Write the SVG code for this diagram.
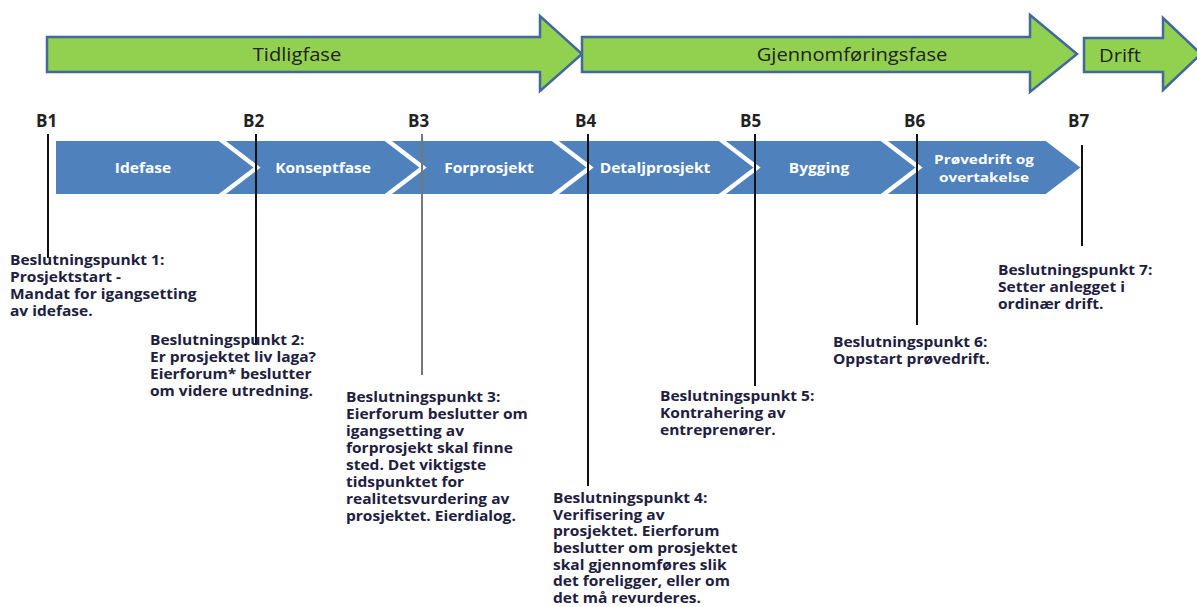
<svg xmlns="http://www.w3.org/2000/svg" width="1197" height="607" viewBox="0 0 1197 607">
  <style>
    .phase { fill: #92d050; stroke: #41699a; stroke-width: 2.5; stroke-linejoin: miter; }
    .phase-label { font-family: "Open Sans", "Liberation Sans", sans-serif; font-size: 18px; fill: #222; text-anchor: middle; dominant-baseline: central; }
    .step { fill: #4f81bd; stroke: #ffffff; stroke-width: 2; }
    .step-label { font-family: "Open Sans", "Liberation Sans", sans-serif; font-size: 13.5px; font-weight: 700; fill: #ffffff; text-anchor: middle; dominant-baseline: central; }
    .step-label.small { font-size: 13px; }
    .bp { font-family: "Open Sans", "Liberation Sans", sans-serif; font-size: 17px; font-weight: 700; fill: #222; }
    .marker { stroke: #111; stroke-width: 2; }
    .marker-gray { stroke: #777; stroke-width: 2; }
    .note { font-family: "Open Sans", "Liberation Sans", sans-serif; font-size: 13.5px; font-weight: 700; fill: #1e2040; }
  </style>

  <!-- Phase arrows -->
  <g id="phase-tidligfase">
    <path class="phase" d="M47,37 L540,37 L540,16 L582,54 L540,91 L540,72 L47,72 Z"/>
    <text class="phase-label" transform="translate(297,54) scale(1.12,1)">Tidligfase</text>
  </g>
  <g id="phase-gjennomforing">
    <path class="phase" d="M582,37 L1030,37 L1030,15 L1077,54 L1030,92 L1030,72 L582,72 Z"/>
    <text class="phase-label" transform="translate(852,54) scale(1.12,1)">Gjennomføringsfase</text>
  </g>
  <g id="phase-drift">
    <path class="phase" d="M1084,38 L1163,38 L1163,18 L1201,54 L1163,90 L1163,72 L1084,72 Z"/>
    <text class="phase-label" transform="translate(1120,55) scale(1.12,1)">Drift</text>
  </g>

  <!-- Project steps (chevrons) -->
  <g id="step-idefase">
    <path class="step" d="M55,140 L219,140 L255,167.5 L219,195 L55,195 Z"/>
    <text class="step-label" transform="translate(143,167) scale(1.15,1)">Idefase</text>
  </g>
  <g id="step-konseptfase">
    <path class="step" d="M223,140 L385,140 L421,167.5 L385,195 L223,195 L259,167.5 Z"/>
    <text class="step-label" transform="translate(323,167) scale(1.15,1)">Konseptfase</text>
  </g>
  <g id="step-forprosjekt">
    <path class="step" d="M389,140 L552,140 L588,167.5 L552,195 L389,195 L425,167.5 Z"/>
    <text class="step-label" transform="translate(489,167) scale(1.15,1)">Forprosjekt</text>
  </g>
  <g id="step-detaljprosjekt">
    <path class="step" d="M556,140 L719,140 L755,167.5 L719,195 L556,195 L592,167.5 Z"/>
    <text class="step-label" transform="translate(655,167) scale(1.15,1)">Detaljprosjekt</text>
  </g>
  <g id="step-bygging">
    <path class="step" d="M723,140 L881,140 L917,167.5 L881,195 L723,195 L759,167.5 Z"/>
    <text class="step-label" transform="translate(819,167) scale(1.15,1)">Bygging</text>
  </g>
  <g id="step-provedrift">
    <path class="step" d="M885,140 L1046,140 L1082,167.5 L1046,195 L885,195 L921,167.5 Z"/>
    <text class="step-label small" transform="translate(984,159) scale(1.18,1)">Prøvedrift og</text>
    <text class="step-label small" transform="translate(984,177) scale(1.18,1)">overtakelse</text>
  </g>

  <!-- Decision point marker lines -->
  <g id="connectors">
    <line class="marker" x1="48" y1="134" x2="48" y2="258"/>
    <line class="marker" x1="256" y1="134" x2="256" y2="345"/>
    <line class="marker-gray" x1="422" y1="134" x2="422" y2="375"/>
    <line class="marker" x1="588" y1="134" x2="588" y2="486"/>
    <line class="marker" x1="755" y1="134" x2="755" y2="386"/>
    <line class="marker" x1="917" y1="134" x2="917" y2="325"/>
    <line class="marker" x1="1082" y1="145" x2="1082" y2="246"/>
  </g>

  <!-- Decision point labels -->
  <g id="bp-labels">
    <text class="bp" x="36" y="127">B1</text>
    <text class="bp" x="243" y="127">B2</text>
    <text class="bp" x="408" y="127">B3</text>
    <text class="bp" x="575" y="127">B4</text>
    <text class="bp" x="740" y="127">B5</text>
    <text class="bp" x="904" y="127">B6</text>
    <text class="bp" x="1068" y="127">B7</text>
  </g>

  <!-- Decision point descriptions (set slightly wide) -->
  <g id="note-b1" class="note" transform="translate(10,0) scale(1.15,1)">
    <text x="0" y="265"><tspan>Beslutningspunkt 1:</tspan><tspan x="0" dy="17">Prosjektstart -</tspan><tspan x="0" dy="17">Mandat for igangsetting</tspan><tspan x="0" dy="17">av idefase.</tspan></text>
  </g>
  <g id="note-b2" class="note" transform="translate(150,0) scale(1.15,1)">
    <text x="0" y="345"><tspan>Beslutningspunkt 2:</tspan><tspan x="0" dy="17">Er prosjektet liv laga?</tspan><tspan x="0" dy="17">Eierforum* beslutter</tspan><tspan x="0" dy="17">om videre utredning.</tspan></text>
  </g>
  <g id="note-b3" class="note" transform="translate(346,0) scale(1.15,1)">
    <text x="0" y="402"><tspan>Beslutningspunkt 3:</tspan><tspan x="0" dy="17">Eierforum beslutter om</tspan><tspan x="0" dy="17">igangsetting av</tspan><tspan x="0" dy="17">forprosjekt skal finne</tspan><tspan x="0" dy="17">sted. Det viktigste</tspan><tspan x="0" dy="17">tidspunktet for</tspan><tspan x="0" dy="17">realitetsvurdering av</tspan><tspan x="0" dy="17">prosjektet. Eierdialog.</tspan></text>
  </g>
  <g id="note-b4" class="note" transform="translate(553,0) scale(1.15,1)">
    <text x="0" y="503"><tspan>Beslutningspunkt 4:</tspan><tspan x="0" dy="16.7">Verifisering av</tspan><tspan x="0" dy="16.7">prosjektet. Eierforum</tspan><tspan x="0" dy="16.7">beslutter om prosjektet</tspan><tspan x="0" dy="16.7">skal gjennomføres slik</tspan><tspan x="0" dy="16.7">det foreligger, eller om</tspan><tspan x="0" dy="16.7">det må revurderes.</tspan></text>
  </g>
  <g id="note-b5" class="note" transform="translate(660,0) scale(1.15,1)">
    <text x="0" y="401"><tspan>Beslutningspunkt 5:</tspan><tspan x="0" dy="17">Kontrahering av</tspan><tspan x="0" dy="17">entreprenører.</tspan></text>
  </g>
  <g id="note-b6" class="note" transform="translate(833,0) scale(1.15,1)">
    <text x="0" y="347"><tspan>Beslutningspunkt 6:</tspan><tspan x="0" dy="17">Oppstart prøvedrift.</tspan></text>
  </g>
  <g id="note-b7" class="note" transform="translate(998,0) scale(1.15,1)">
    <text x="0" y="275"><tspan>Beslutningspunkt 7:</tspan><tspan x="0" dy="17">Setter anlegget i</tspan><tspan x="0" dy="17">ordinær drift.</tspan></text>
  </g>
</svg>
